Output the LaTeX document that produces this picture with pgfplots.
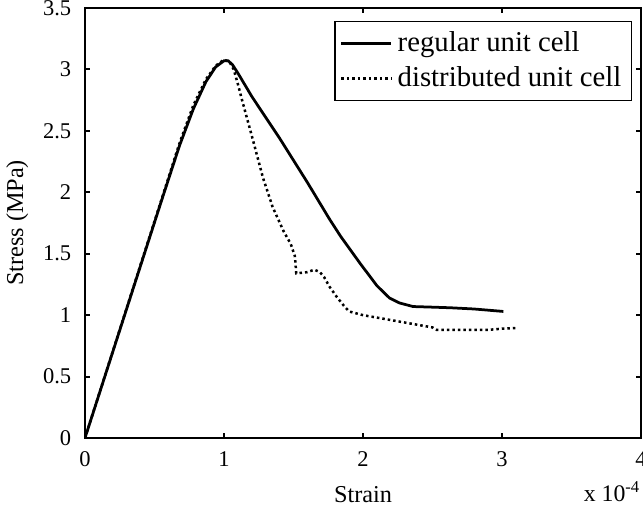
\documentclass[border=0pt]{standalone}
\usepackage{fontspec}
\setmainfont{Liberation Serif}
\usepackage{pgfplots}
\pgfplotsset{compat=1.18}
\begin{document}
\begin{tikzpicture}
\begin{axis}[
  name=ax,
  scale only axis,
  width=222.4pt, height=172pt,
  at={(0,0)}, anchor=south west,
  xmin=0, xmax=4, ymin=0, ymax=3.5,
  xtick={0,1,2,3,4}, ytick={0,0.5,1,1.5,2,2.5,3,3.5},
  scaled x ticks=false,
  /pgf/number format/assume math mode=true,
  tick align=inside, tick pos=both,
  major tick length=2pt,
  axis line style={line width=1pt},
  every tick/.style={line width=0.8pt, black},
  tick label style={font=\fontsize{9}{10}\selectfont},
  xticklabel style={yshift=-2pt},
  yticklabel style={xshift=-2pt},
  xlabel={Strain}, ylabel={Stress (MPa)},
  label style={font=\fontsize{9.7}{11}\selectfont},
  xlabel style={yshift=-1pt},
  ylabel style={yshift=-1pt},
  legend style={at={(1,1)}, anchor=north east, xshift=-3.6pt, yshift=-5.2pt,
    font=\fontsize{11.5}{14}\selectfont, draw=black, line width=0.6pt,
    inner xsep=2pt, inner ysep=2pt, row sep=0.5pt, legend cell align=left},
  legend image code/.code={\draw[#1, line width=1pt] (0pt,0pt) -- (20pt,0pt);},
]
\addplot[black, line width=1.1pt] coordinates {
(0,0) (0.55,1.93) (0.68,2.38) (0.78,2.68) (0.87,2.9) (0.94,3.02) (1.0,3.07) (1.03,3.07)
(1.06,3.04) (1.1,2.97) (1.2,2.78) (1.4,2.44) (1.6,2.08) (1.76,1.78) (1.84,1.64)
(1.98,1.42) (2.1,1.24) (2.19,1.14) (2.26,1.10) (2.36,1.07) (2.5,1.065) (2.63,1.06)
(2.8,1.05) (3.01,1.03)
};
\addlegendentry{regular unit cell}
\addplot[black, line width=1pt, dash pattern=on 1pt off 1.2pt] coordinates {
(0,0) (0.55,1.94) (0.68,2.40) (0.78,2.71) (0.87,2.92) (0.94,3.03) (1.0,3.08) (1.04,3.06)
(1.07,3.0) (1.1,2.88) (1.13,2.75) (1.2,2.46) (1.28,2.12) (1.35,1.88) (1.43,1.68)
(1.48,1.58) (1.51,1.48) (1.52,1.34) (1.6,1.35) (1.65,1.37) (1.69,1.35) (1.72,1.31)
(1.76,1.23) (1.81,1.15) (1.86,1.08) (1.9,1.03) (2.0,1.0) (2.1,0.98) (2.25,0.95)
(2.4,0.92) (2.5,0.90) (2.53,0.88) (2.7,0.88) (2.9,0.88) (3.0,0.89) (3.1,0.895)
};
\addlegendentry{distributed unit cell}
\end{axis}
\node[anchor=base east, font=\fontsize{9.5}{11}\selectfont, inner sep=0pt] at ([yshift=-25.5pt]ax.south east) {x 10\textsuperscript{-4}};
\pgfresetboundingbox
\useasboundingbox (-34pt,-30.8pt) rectangle (223.2pt,172pt+3.2pt);
\end{tikzpicture}
\end{document}
